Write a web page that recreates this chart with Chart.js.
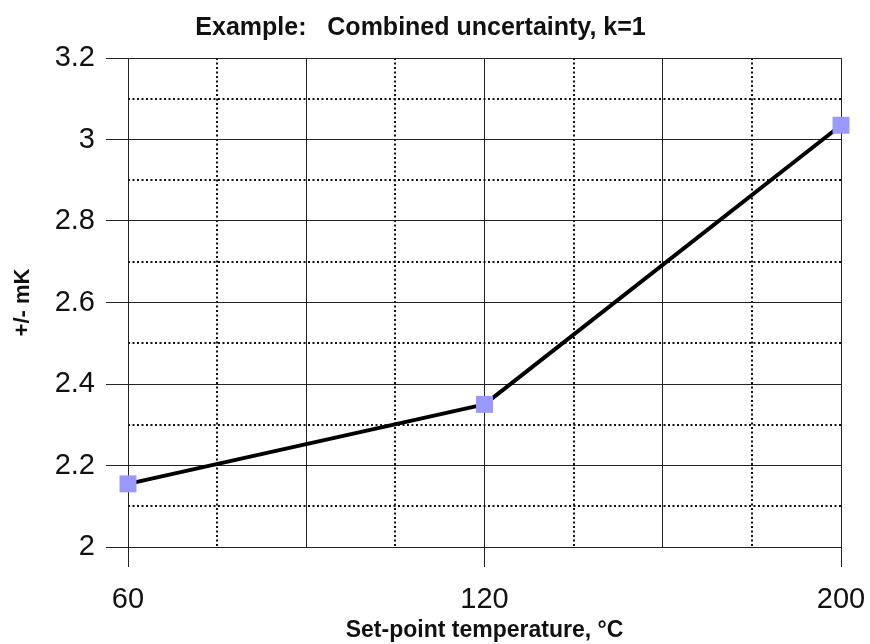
<!DOCTYPE html>
<html>
<head>
<meta charset="utf-8">
<script src="https://cdn.jsdelivr.net/npm/chart.js@4"></script>
<style>
    html, body { margin: 0; padding: 0; background: #fff; }
    #wrap { width: 870px; height: 644px; }
</style>
</head>
<body>
<div id="wrap"><canvas id="uncChart"></canvas></div>
<script>
// Set-point temperatures (evenly spaced categories) and combined uncertainty, k=1
const temperatures = ['60', '120', '200'];
const uncertainty = [2.155, 2.35, 3.035];
const yTicksMajor = [2, 2.2, 2.4, 2.6, 2.8, 3, 3.2];

const FONT = '"Liberation Sans", Arial, sans-serif';
const GRID = '#222';

// helpers for minor (dotted) grid lines
function isMajorY(v) { return Math.round(v * 10) % 2 === 0; }
function isMajorX(v) { return Math.round(v * 4) % 2 === 0; }

function initChart() {
    const ctx = document.getElementById('uncChart').getContext('2d');
    const points = temperatures.map((t, i) => ({ x: i, y: uncertainty[i] }));

    new Chart(ctx, {
        type: 'line',
        data: {
            datasets: [{
                label: 'Combined uncertainty',
                data: points,
                xAxisID: 'x',
                yAxisID: 'y',
                borderColor: '#000',
                borderWidth: 4,
                tension: 0,
                borderJoinStyle: 'round',
                pointStyle: 'rect',
                pointRadius: 12,
                pointHoverRadius: 12,
                pointBackgroundColor: '#9999ff',
                pointBorderWidth: 0,
                clip: false
            }]
        },
        options: {
            responsive: true,
            maintainAspectRatio: false,
            animation: false,
            layout: { padding: { left: 0, right: 29, top: 0, bottom: 0 } },
            plugins: {
                legend: { display: false },
                tooltip: { enabled: false },
                title: {
                    display: true,
                    text: 'Example:   Combined uncertainty, k=1',
                    color: '#111',
                    font: { family: FONT, size: 25, weight: 'bold' },
                    padding: { top: 13, bottom: 15 }
                }
            },
            scales: {
                x: {
                    type: 'linear',
                    position: 'bottom',
                    min: 0,
                    max: temperatures.length - 1,
                    afterFit: s => { s.height = 97; },
                    ticks: {
                        stepSize: 0.5,
                        autoSkip: false,
                        maxRotation: 0,
                        padding: 4,
                        color: '#111',
                        font: { family: FONT, size: 29 },
                        callback: v => Number.isInteger(v) ? temperatures[v] : ''
                    },
                    grid: {
                        color: GRID,
                        lineWidth: 1,
                        // long tick so the labels sit low, but only 19px of it is drawn
                        tickLength: 32,
                        tickBorderDash: [19, 60],
                        tickColor: c => Number.isInteger(c.tick.value) ? GRID : 'rgba(0,0,0,0)'
                    },
                    border: { display: true, color: GRID, width: 1 },
                    title: {
                        display: true,
                        text: 'Set-point temperature, °C',
                        color: '#111',
                        font: { family: FONT, size: 23, weight: 'bold' },
                        padding: { top: 0, bottom: 0 }
                    }
                },
                xMinor: {
                    type: 'linear',
                    position: 'bottom',
                    min: 0,
                    max: temperatures.length - 1,
                    afterFit: s => { s.height = 0; },
                    ticks: { stepSize: 0.25, display: false },
                    grid: {
                        drawTicks: false,
                        lineWidth: 2,
                        color: c => isMajorX(c.tick.value) ? 'rgba(0,0,0,0)' : '#111'
                    },
                    border: { display: false, dash: [2, 2.5] }
                },
                y: {
                    type: 'linear',
                    position: 'left',
                    min: yTicksMajor[0],
                    max: yTicksMajor[yTicksMajor.length - 1],
                    afterFit: s => { s.width = 128; },
                    ticks: {
                        stepSize: 0.2,
                        padding: 11,
                        color: '#111',
                        font: { family: FONT, size: 29 },
                        callback: v => String(Math.round(v * 10) / 10)
                    },
                    grid: {
                        color: GRID,
                        lineWidth: 1,
                        tickLength: 22,
                        tickColor: GRID
                    },
                    border: { display: true, color: GRID, width: 1 },
                    title: {
                        display: true,
                        text: '+/- mK',
                        color: '#111',
                        font: { family: FONT, size: 22, weight: 'bold' },
                        padding: { top: 10, bottom: 0 }
                    }
                },
                yMinor: {
                    type: 'linear',
                    position: 'left',
                    min: yTicksMajor[0],
                    max: yTicksMajor[yTicksMajor.length - 1],
                    afterFit: s => { s.width = 0; },
                    ticks: { stepSize: 0.1, display: false },
                    grid: {
                        drawTicks: false,
                        lineWidth: 2,
                        color: c => isMajorY(c.tick.value) ? 'rgba(0,0,0,0)' : '#111'
                    },
                    border: { display: false, dash: [2, 2.5] }
                }
            }
        }
    });
}

document.addEventListener('DOMContentLoaded', initChart);
</script>
</body>
</html>
